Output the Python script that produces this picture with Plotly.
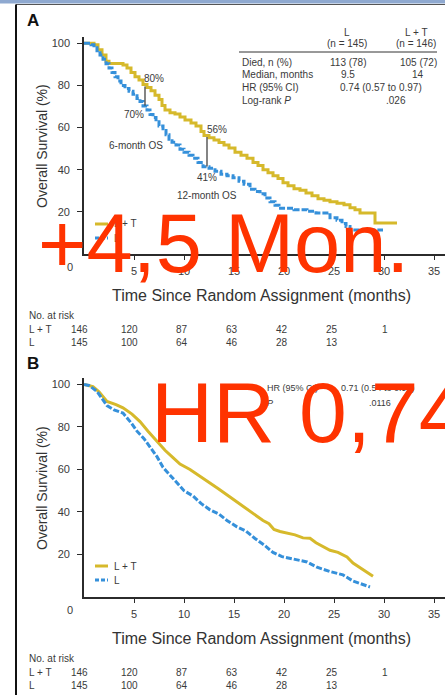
import plotly.graph_objects as go

W, H = 445, 695

# ---- Panel A: Kaplan-Meier estimates (months, % alive) ----
a_lt_t = [0, 1.0, 1.4, 1.8, 2.2, 2.5, 3.9, 4.3, 4.7, 5.1, 5.5, 5.9, 6.3, 6.7, 7.1, 7.5, 7.8, 8.1,
          8.6, 9.1, 9.6, 10.1, 10.7, 11.2, 11.7, 12.0, 12.5, 13.0, 13.5, 14.0, 14.5, 15.1, 15.7,
          16.3, 16.9, 17.4, 17.9, 18.4, 18.9, 19.4, 19.9, 20.4, 21.0, 21.6, 22.2, 22.8, 23.4,
          24.0, 24.6, 25.3, 26.0, 26.6, 27.1, 27.6, 29.1, 31.3]
a_lt_s = [100, 99.3, 97, 94.5, 91.5, 90.4, 89.7, 88.3, 86.2, 84.1, 82.6, 80.5, 79, 77.5, 75.4,
          73.3, 70.5, 68.4, 67.1, 66.4, 65, 63.6, 62.2, 60.8, 58.2, 56.2, 55.2, 54.1, 52.9, 51.7,
          50.3, 48.3, 46.9, 45.5, 43.4, 42, 40, 38.6, 37.2, 35.8, 33.8, 32.4, 31.0, 30.3, 28.9,
          27.6, 26.2, 25.5, 24.8, 24.1, 23.4, 22, 21, 19.5, 14.7, 14.7]

a_l_t = [0, 0.7, 1.0, 1.3, 1.6, 1.9, 2.2, 2.5, 2.8, 3.1, 3.4, 3.7, 4.1, 4.5, 4.9, 5.3, 5.6, 5.9,
         6.3, 6.6, 6.9, 7.2, 7.5, 7.9, 8.2, 8.5, 8.8, 9.2, 9.6, 10.0, 10.5, 10.9, 11.4, 11.9,
         12.5, 13.1, 13.7, 14.3, 14.9, 15.5, 16.0, 16.6, 17.1, 17.6, 18.1, 18.6, 19.1, 19.5,
         21.0, 22.3, 23.2, 24.6, 25.3, 25.8, 26.2, 26.6, 29.9]
a_l_s = [100, 99.3, 97.9, 96.5, 94.5, 92.4, 90.3, 88.3, 86.2, 84.1, 82.1, 80, 78.6, 77.2, 75.8,
         73.8, 72.4, 70.3, 68.3, 66.2, 64.8, 62.8, 60.7, 58.6, 56.6, 54.5, 53.1, 51.7, 49.7,
         48.3, 46.9, 45.5, 43.4, 41.4, 40.7, 39.3, 37.9, 37.2, 36.2, 34.5, 33.1, 30.7, 29.7,
         28.6, 26.6, 24.8, 23.1, 21.7, 21.0, 20.3, 19.5, 17.2, 16.0, 14.5, 13.0, 11.4, 11.4]

# ---- Panel B: modelled survival curves ----
b_lt_t = [0, 0.9, 1.5, 2.3, 3.2, 3.9, 4.8, 5.6, 6.4, 7.3, 8.1, 8.9, 9.6, 10.6, 11.4, 12.3, 13.4,
          14.6, 15.5, 16.3, 17.1, 17.9, 18.5, 19.0, 19.6, 20.5, 21.1, 21.9, 22.6, 23.2, 24.0,
          24.6, 25.4, 26.3, 26.9, 27.8, 28.9]
b_lt_s = [100, 99, 96.5, 92, 90.5, 89, 86, 82.5, 78, 73, 69, 65.6, 62.5, 60, 57.5, 54.5, 51, 47,
          44, 41.5, 38.5, 36, 34.5, 31.8, 30.8, 30, 29.2, 27.8, 27.6, 25.5, 23.5, 22, 21, 18.8,
          16, 13.3, 9.8]

b_l_t = [0, 0.5, 1.3, 1.9, 2.3, 3.0, 3.9, 4.7, 5.3, 6.0, 6.6, 7.3, 7.9, 8.5, 9.3, 10.0, 10.9,
         11.7, 12.6, 13.5, 14.3, 15.3, 16.2, 17.1, 18.0, 18.9, 19.8, 21.3, 22.3, 23.3, 24.6,
         25.9, 26.9, 28.6]
b_l_s = [100, 99.5, 96.7, 93, 90, 88, 86.5, 82, 78, 74.5, 70.5, 66, 61, 58, 54, 50, 47.5, 44, 41,
         39, 36, 33, 31, 27.5, 24.5, 21, 19, 17.5, 16.5, 14, 12, 10.4, 7.5, 4.7]

# ---- Numbers at risk ----
risk_months = [0, 5, 10, 15, 20, 25, 30]
risk_lt = [146, 120, 87, 63, 42, 25, 1]
risk_l = [145, 100, 64, 46, 28, 13]

x_ticks = [5, 10, 15, 20, 25, 30, 35]
y_ticks = [20, 40, 60, 80, 100]

# ---- Panel A summary table ----
tbl_rows = ["Died, n (%)", "Median, months", "HR (95% CI)", "Log-rank <i>P</i>"]
tbl_l = ["113 (78)", "9.5"]
tbl_lt = ["105 (72)", "14"]
tbl_hr = "0.74 (0.57 to 0.97)"
tbl_p = ".026"

YELLOW = "#D6B92B"
BLUE = "#3590DA"
INK = "#2b2b2b"
TXT = "#3a3a3a"
SANS = "Liberation Sans, Arial, sans-serif"


def px(x):
    return x / W


def py(y):
    return 1 - y / H


fig = go.Figure()

fig.add_trace(go.Scatter(x=a_lt_t, y=a_lt_s, mode="lines", line=dict(color=YELLOW, width=3, shape="hv"),
                         xaxis="x", yaxis="y", showlegend=False))
fig.add_trace(go.Scatter(x=a_l_t, y=a_l_s, mode="lines",
                         line=dict(color=BLUE, width=3, shape="hv", dash="6px,2px"),
                         xaxis="x", yaxis="y", showlegend=False))
fig.add_trace(go.Scatter(x=b_lt_t, y=b_lt_s, mode="lines", line=dict(color=YELLOW, width=3),
                         xaxis="x2", yaxis="y2", showlegend=False))
fig.add_trace(go.Scatter(x=b_l_t, y=b_l_s, mode="lines", line=dict(color=BLUE, width=3, dash="6px,2px"),
                         xaxis="x2", yaxis="y2", showlegend=False))

axis_common = dict(showgrid=False, zeroline=False, showline=True, linecolor=INK, linewidth=1.6,
                   ticks="outside", tickcolor=INK, tickwidth=1.2,
                   tickfont=dict(family=SANS, size=11, color=TXT))
xa = dict(axis_common, range=[0, 36.1], domain=[px(84), 1], tickvals=x_ticks, ticklen=4,
          ticklabelstandoff=2)
ya_a = dict(axis_common, range=[0, 103], domain=[py(254), py(37)], tickvals=y_ticks, ticklen=5,
            ticklabelstandoff=5)
ya_b = dict(axis_common, range=[0, 103], domain=[py(597), py(378)], tickvals=y_ticks, ticklen=5,
            ticklabelstandoff=5)

ann = []


def text(t, x, y, size=10, color=TXT, family=SANS, xanchor="center", yanchor="middle",
         xref="paper", yref="paper", angle=0):
    ann.append(dict(text=t, x=x, y=y, xref=xref, yref=yref, showarrow=False, xanchor=xanchor,
                    yanchor=yanchor, textangle=angle, font=dict(size=size, color=color, family=family)))


shapes = []

# Page frame
shapes.append(dict(type="rect", xref="paper", yref="paper", x0=0, x1=1, y0=py(3.5), y1=1,
                   fillcolor="#8FA9D0", line=dict(width=0)))
shapes.append(dict(type="line", xref="paper", yref="paper", x0=px(16), x1=1, y0=py(4.5), y1=py(4.5),
                   line=dict(color="#555555", width=1)))
shapes.append(dict(type="line", xref="paper", yref="paper", x0=px(16), x1=px(16), y0=0, y1=py(4.5),
                   line=dict(color="#111111", width=2)))

for panel, (xr, top, ymid) in {"A": ("x", 0, 146), "B": ("x2", 343, 488)}.items():
    text(f"<b>{panel}</b>", px(33), py(20 + top), size=17, color="#111111")
    text("0", px(70), py(267 + top), size=11)
    text("Overall Survival (%)", px(42), py(ymid), size=14, angle=-90, color="#333333")
    text("Time Since Random Assignment (months)", px(261), py(295 + top), size=16, color="#333333")
    text("No. at risk", px(27), py(315 + top), size=10, xanchor="left")
    text("L + T", px(27), py(329 + top), size=10, xanchor="left")
    text("L", px(27), py(342 + top), size=10, xanchor="left")
    for m, n in zip(risk_months, risk_lt):
        text(str(n), m + 0.6, py(329 + top), size=10, xanchor="right", xref=xr)
    for m, n in zip(risk_months, risk_l):
        text(str(n), m + 0.6, py(342 + top), size=10, xanchor="right", xref=xr)

# Legends drawn as short line keys
for top in (0, 342):
    ly1, ly2 = (224, 238) if top == 0 else (566, 580)
    shapes.append(dict(type="line", xref="paper", yref="paper", x0=px(95), x1=px(108), y0=py(ly1),
                       y1=py(ly1), line=dict(color=YELLOW, width=3)))
    shapes.append(dict(type="line", xref="paper", yref="paper", x0=px(95), x1=px(108), y0=py(ly2),
                       y1=py(ly2), line=dict(color=BLUE, width=3, dash="4px,2px")))
    text("L + T", px(112), py(ly1), size=10, xanchor="left")
    text("L", px(112), py(ly2), size=10, xanchor="left")

# Panel A landmark annotations
shapes.append(dict(type="line", xref="x", yref="y", x0=6.1, x1=6.1, y0=70.5, y1=79.5,
                   line=dict(color="#333333", width=1.2)))
shapes.append(dict(type="line", xref="x", yref="y", x0=12.3, x1=12.3, y0=41.5, y1=55.5,
                   line=dict(color="#333333", width=1.2)))
text("80%", px(154), py(78), size=10)
text("70%", px(134), py(115), size=10)
text("6-month OS", px(136), py(145), size=10)
text("56%", px(217), py(129), size=10)
text("41%", px(207), py(178), size=10)
text("12-month OS", px(207), py(196), size=10)

# Panel A summary table
text("L", px(347), py(33), size=10)
text("(n = 145)", px(347), py(43), size=10)
text("L + T", px(416), py(33), size=10)
text("(n = 146)", px(416), py(43), size=10)
shapes.append(dict(type="line", xref="paper", yref="paper", x0=px(239), x1=px(437), y0=py(52),
                   y1=py(52), line=dict(color="#333333", width=1)))
for i, r in enumerate(tbl_rows):
    text(r, px(240), py(62 + i * 12.7), size=10, xanchor="left")
for i, (a, b) in enumerate(zip(tbl_l, tbl_lt)):
    text(a, px(348), py(62 + i * 12.7), size=10)
    text(b, px(418), py(62 + i * 12.7), size=10)
text(tbl_hr, px(381), py(87.5), size=10)
text(tbl_p, px(396), py(100), size=10)

# Panel B statistics
text("HR (95% CI)", px(265), py(388), size=9, xanchor="left")
text("0.71 (0.54 to 0.93)", px(378), py(388), size=9)
text("<i>P</i>", px(265), py(403), size=9, xanchor="left")
text(".0116", px(380), py(403), size=9)

# Highlight overlays
text("+4,5 Mon.", px(223), py(243), size=83, color="#FF3300")
text("HR 0,74", px(149), py(412), size=86, color="#FF3300", xanchor="left")

fig.update_layout(
    width=W, height=H, margin=dict(l=0, r=0, t=0, b=0),
    paper_bgcolor="white", plot_bgcolor="white",
    xaxis=dict(xa, anchor="y"), yaxis=dict(ya_a, anchor="x"),
    xaxis2=dict(xa, anchor="y2"), yaxis2=dict(ya_b, anchor="x2"),
    annotations=ann, shapes=shapes, showlegend=False,
)

fig.write_html("out.html")
